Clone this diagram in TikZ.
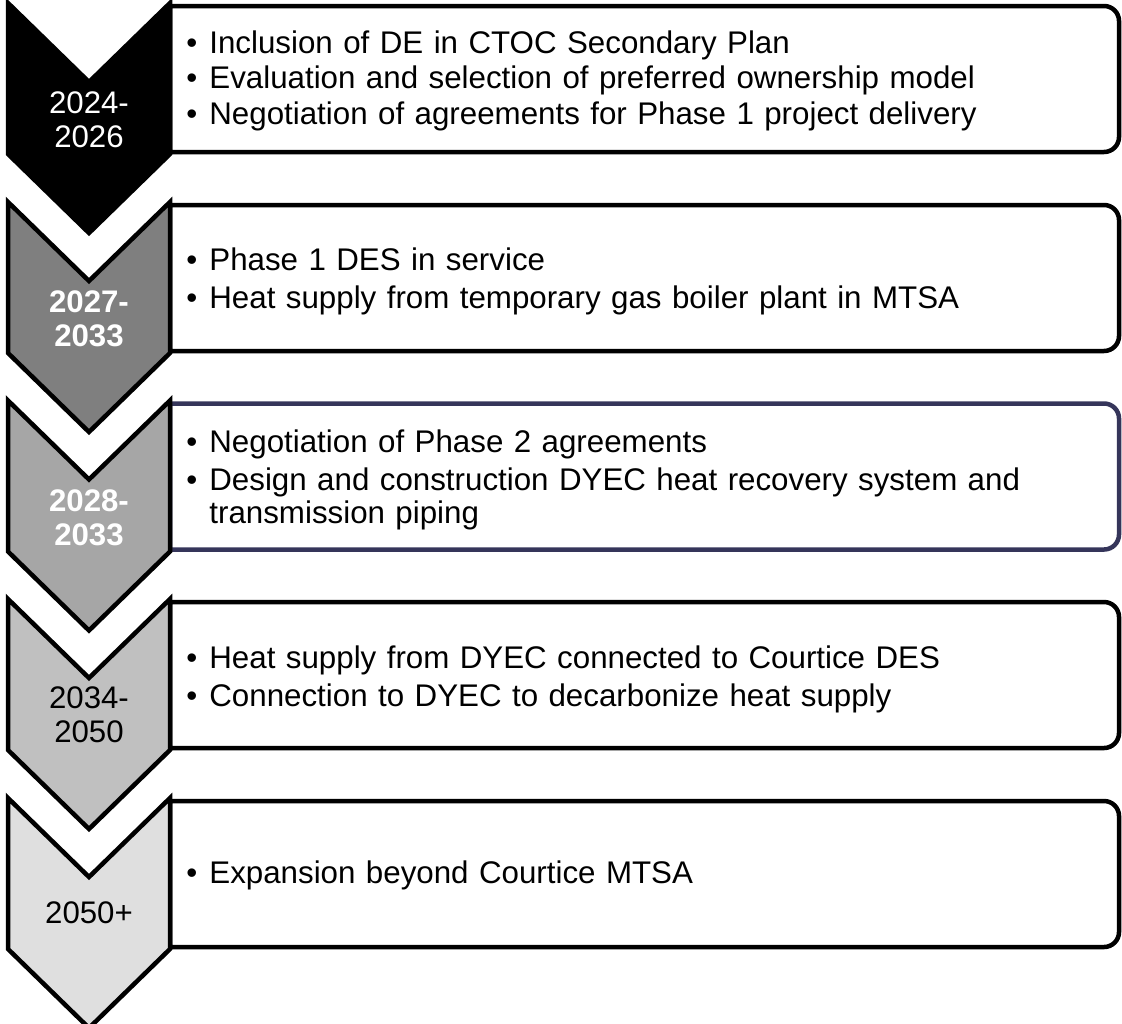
\documentclass[tikz,border=0pt]{standalone}
\usepackage{fontspec}
\setmainfont{Liberation Sans}
\usepackage{tikz}

\definecolor{stage1}{HTML}{000000}
\definecolor{stage2}{HTML}{7F7F7F}
\definecolor{stage3}{HTML}{A6A6A6}
\definecolor{stage4}{HTML}{C0C0C0}
\definecolor{stage5}{HTML}{DFDFDF}
\definecolor{navyline}{HTML}{35355A}
\newcommand{\bodyfont}{\fontsize{15.65pt}{16.5pt}\selectfont}
\newcommand{\yearfont}{\fontsize{15.6pt}{17pt}\selectfont}
% one bullet paragraph, wrapped lines hang under the text
\newcommand{\bul}[1]{\noindent\hangindent=11.5pt\hangafter=1
  \makebox[11.5pt][l]{\textbullet}#1\par}

\begin{document}
\begin{tikzpicture}[
  x=0.5pt, y=-0.5pt,
  pics/chev/.style={code={
    \path[pic actions] (8,0) -- (89,79) -- (170,0) -- (170,151)
      -- (89,230) -- (8,151) -- cycle;}},
  pics/itembox/.style={code={
    \path[pic actions] (170,3) [rounded corners=7.5pt] -- (1119,3)
      -- (1119,149) [sharp corners] -- (170,149) -- cycle;}},
  chevline/.style={draw=black,line width=2.25pt,line join=miter},
  boxline/.style={draw=black,fill=white,line width=2.25pt},
  year/.style={text width=75pt,align=center,anchor=base,inner sep=0pt,
               font=\yearfont},
  items/.style={text width=460pt,align=left,anchor=base west,inner sep=0pt,
                font=\bodyfont,execute at begin node={\setlength{\parskip}{#1}}},
  items/.default=2.5pt
]
\clip (0,0) rectangle (1122,1023);

% 2024-2026
\pic[boxline] at (0,3) {itembox};
\pic[chevline,fill=stage1] at (0,3) {chev};
\node[year,text=white] (y1) at (89,113) {2024-\\2026};
\node[items=1.25pt] (t1) at (186,53) {%
  \bul{Inclusion of DE in CTOC Secondary Plan}
  \bul{Evaluation and selection of preferred ownership model}
  \bul{Negotiation of agreements for Phase 1 project delivery}};

% 2027-2033
\pic[boxline] at (0,202) {itembox};
\pic[chevline,fill=stage2] at (0,202) {chev};
\node[year,text=white,font=\yearfont\bfseries] (y2) at (89,312) {2027-\\2033};
\node[items] (t2) at (186,270) {%
  \bul{Phase 1 DES in service}
  \bul{Heat supply from temporary gas boiler plant in MTSA}};

% 2028-2033
\pic[boxline,draw=navyline] at (0,400.5) {itembox};
\pic[chevline,fill=stage3] at (0,400.5) {chev};
\node[year,text=white,font=\yearfont\bfseries] (y3) at (89,511) {2028-\\2033};
\node[items] (t3) at (186,452) {%
  \bul{Negotiation of Phase 2 agreements}
  \bul{Design and construction DYEC heat recovery system and\newline
       transmission piping}};

% 2034-2050
\pic[boxline] at (0,599) {itembox};
\pic[chevline,fill=stage4] at (0,599) {chev};
\node[year] (y4) at (89,708) {2034-\\2050};
\node[items] (t4) at (186,668) {%
  \bul{Heat supply from DYEC connected to Courtice DES}
  \bul{Connection to DYEC to decarbonize heat supply}};

% 2050+
\pic[boxline] at (0,798) {itembox};
\pic[chevline,fill=stage5] at (0,798) {chev};
\node[year] (y5) at (89,923) {2050+};
\node[items] (t5) at (186,883) {%
  \bul{Expansion beyond Courtice MTSA}};
\end{tikzpicture}
\end{document}
